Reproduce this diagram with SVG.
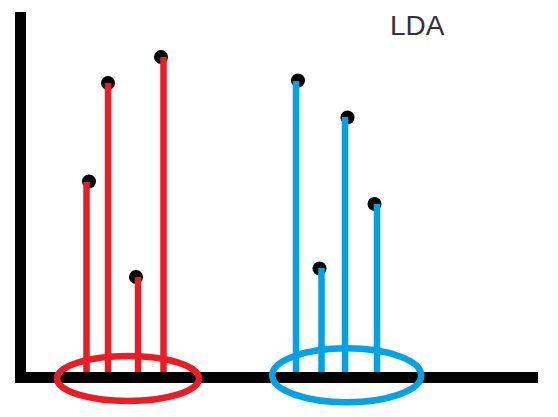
<svg xmlns="http://www.w3.org/2000/svg" width="558" height="417" viewBox="0 0 558 417">
<style>
.ax{fill:#000}
.r{stroke:#ed1c24;stroke-width:6.5;fill:none}
.b{stroke:#00a2e8;stroke-width:6.5;fill:none}
.d{fill:#000}
.t{font-family:"Liberation Sans",Arial,sans-serif;font-size:28px;fill:#333}
</style>
<rect width="558" height="417" fill="#fff"/>
<g id="axes">
<rect class="ax" x="15" y="12" width="11" height="371"/>
<rect class="ax" x="15" y="372" width="523" height="11"/>
</g>
<g id="red-points">
<circle class="d" cx="89" cy="181.5" r="7"/>
<circle class="d" cx="108" cy="83" r="7"/>
<circle class="d" cx="136" cy="277" r="7"/>
<circle class="d" cx="161" cy="57" r="7"/>
</g>
<g id="blue-points">
<circle class="d" cx="298" cy="80.5" r="7"/>
<circle class="d" cx="347.5" cy="117.5" r="7"/>
<circle class="d" cx="374.5" cy="204" r="7"/>
<circle class="d" cx="319.5" cy="268.5" r="7"/>
</g>
<g id="connectors">
<line class="r" x1="86.5" y1="182" x2="86.5" y2="372"/>
<line class="r" x1="108" y1="83" x2="108" y2="372"/>
<line class="r" x1="138" y1="277" x2="138" y2="372"/>
<line class="r" x1="163.5" y1="57" x2="163.5" y2="372"/>
<line class="b" x1="296" y1="81" x2="296" y2="372"/>
<line class="b" x1="321.5" y1="268" x2="321.5" y2="372"/>
<line class="b" x1="345" y1="117" x2="345" y2="372"/>
<line class="b" x1="377" y1="204" x2="377" y2="372"/>
</g>
<g id="red-cluster">
<ellipse class="r" cx="128" cy="378.5" rx="71" ry="22.5"/>
</g>
<g id="blue-cluster">
<ellipse class="b" cx="346.7" cy="375.3" rx="74.5" ry="27"/>
</g>
<g id="title">
<text class="t" x="390" y="35">LDA</text>
</g>
</svg>
